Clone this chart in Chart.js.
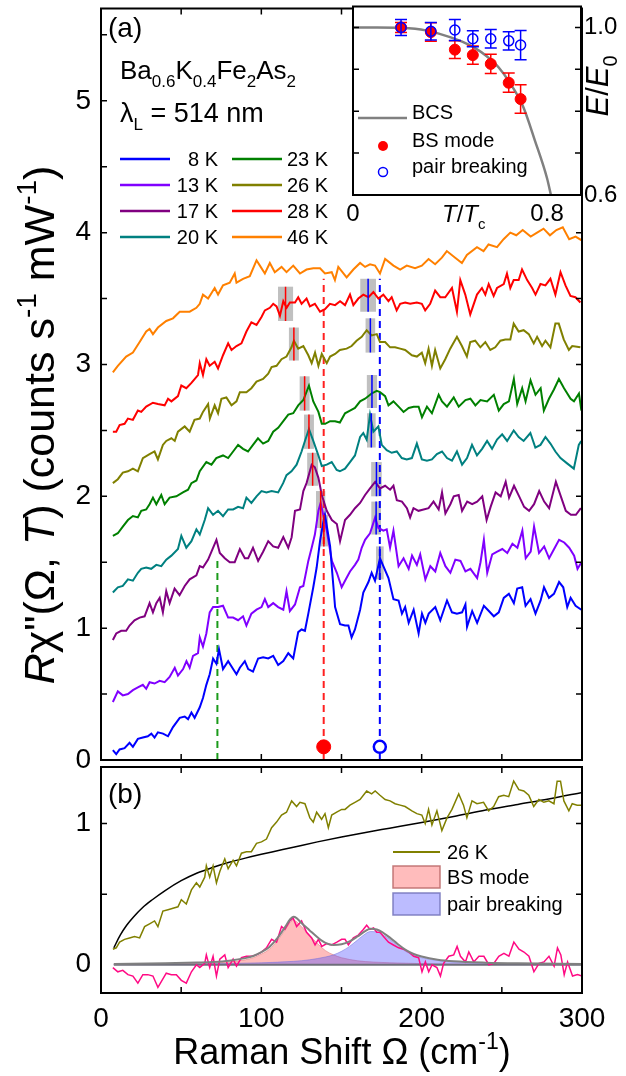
<!DOCTYPE html>
<html>
<head>
<meta charset="utf-8">
<script src="https://cdn.jsdelivr.net/npm/chart.js@4.4.1/dist/chart.umd.min.js"></script>
<style>
  html, body { margin: 0; padding: 0; background: #fff; }
  #wrap { position: relative; width: 626px; height: 1076px; overflow: hidden; }
  canvas { position: absolute; }
</style>
</head>
<body>
<div id="wrap">
  <canvas id="panelA" width="626" height="770" style="left:0;top:0"></canvas>
  <canvas id="panelB" width="626" height="314" style="left:0;top:762px"></canvas>
  <canvas id="inset" width="286" height="232" style="left:340px;top:0"></canvas>
</div>
<script>
const FONT = '"Liberation Sans", Arial, sans-serif';

// ---------- panel (a): spectra [Raman shift cm-1, offset R chi''] ----------
const temps = ['8 K', '13 K', '17 K', '20 K', '23 K', '26 K', '28 K', '46 K'];
const colors = ['#0000ff', '#8000ff', '#800080', '#008080', '#008000', '#808000', '#ff0000', '#ff8000'];

const spec8K = [[7.4,0.075],[9.5,0.045],[11.6,0.08],[14.7,0.09],[17.8,0.13],[19.9,0.10],[23.0,0.16],[26.1,0.17],[29.2,0.18],[31.4,0.20],[33.4,0.17],[35.5,0.21],[38.7,0.20],[41.8,0.18],[44.9,0.25],[49.1,0.32],[52.2,0.33],[54.3,0.31],[56.4,0.36],[58.4,0.32],[61.6,0.40],[63.6,0.47],[65.7,0.57],[67.8,0.65],[69.9,0.77],[72.0,0.73],[73.6,0.84],[76.1,0.69],[79.3,0.75],[82.4,0.69],[84.5,0.65],[86.6,0.70],[89.7,0.75],[91.8,0.69],[94.8,0.67],[98.0,0.77],[101.1,0.78],[104.3,0.77],[107.4,0.79],[110.5,0.72],[113.7,0.75],[116.8,0.81],[119.9,0.77],[123.0,0.97],[125.1,0.99],[127.2,0.98],[129.3,1.11],[132.4,1.31],[134.5,1.46],[136.6,1.66],[138.7,1.81],[139.7,1.86],[142.9,1.62],[146.0,1.16],[149.1,1.03],[152.2,1.02],[154.3,1.02],[156.3,0.93],[158.4,0.99],[161.6,1.14],[163.6,1.27],[166.8,1.35],[168.8,1.42],[170.9,1.36],[174.0,1.53],[176.1,1.47],[179.3,1.38],[182.4,1.22],[185.6,1.21],[187.7,1.11],[189.7,1.16],[191.9,1.04],[195.0,1.14],[198.1,0.96],[200.2,1.11],[202.3,1.04],[204.4,1.11],[208.5,1.16],[211.6,1.06],[215.8,1.21],[218.9,1.12],[222.0,1.11],[225.2,1.12],[227.3,1.18],[228.3,1.01],[231.5,1.13],[234.6,1.04],[238.8,1.17],[241.9,1.13],[245.0,1.09],[248.1,1.12],[251.2,1.23],[254.4,1.26],[257.5,1.19],[259.6,1.30],[262.7,1.31],[264.8,1.17],[267.9,1.22],[271.0,1.11],[274.2,1.21],[276.3,1.31],[279.4,1.23],[282.5,1.26],[285.7,1.35],[288.3,1.31],[290.8,1.16],[292.9,1.23],[296.0,1.17],[299.6,1.14]];
const spec13K = [[7.4,0.44],[10.5,0.52],[13.6,0.49],[16.8,0.50],[19.9,0.53],[23.0,0.55],[26.1,0.57],[28.2,0.54],[30.3,0.59],[33.4,0.58],[36.6,0.60],[39.7,0.59],[42.8,0.63],[46.0,0.70],[48.0,0.64],[51.2,0.69],[53.3,0.75],[55.3,0.70],[57.4,0.79],[60.5,0.81],[61.6,0.93],[63.6,0.86],[65.7,0.96],[67.8,1.12],[69.9,1.16],[73.0,1.16],[76.1,1.17],[79.3,1.08],[82.4,1.08],[85.5,1.06],[88.6,1.09],[90.7,1.02],[93.8,1.11],[97.0,1.14],[100.1,1.16],[102.2,1.22],[104.3,1.16],[107.4,1.19],[110.5,1.16],[113.7,1.14],[115.7,1.28],[117.8,1.13],[121.0,1.18],[124.1,1.31],[126.2,1.32],[129.3,1.51],[131.4,1.61],[133.4,1.71],[135.6,1.89],[137.0,1.95],[138.6,1.86],[140.8,1.74],[144.0,1.51],[147.1,1.42],[150.1,1.31],[152.2,1.36],[155.3,1.43],[158.4,1.48],[160.5,1.52],[162.6,1.61],[164.7,1.67],[167.8,1.72],[171.0,1.84],[173.0,1.76],[176.1,1.74],[178.2,1.75],[180.3,1.61],[182.4,1.74],[185.6,1.47],[188.7,1.53],[191.9,1.45],[194.0,1.55],[197.0,1.48],[199.1,1.56],[202.3,1.37],[205.4,1.47],[208.5,1.43],[211.6,1.57],[214.8,1.47],[217.9,1.42],[221.0,1.52],[224.2,1.51],[227.3,1.43],[230.4,1.45],[234.6,1.38],[236.7,1.50],[238.8,1.67],[240.9,1.42],[244.0,1.56],[247.1,1.58],[250.3,1.60],[253.4,1.57],[256.6,1.64],[259.7,1.61],[262.8,1.74],[264.9,1.53],[268.0,1.58],[270.1,1.77],[273.2,1.57],[276.4,1.62],[279.5,1.53],[282.6,1.60],[285.7,1.67],[288.9,1.65],[292.0,1.61],[295.1,1.55],[297.2,1.45],[299.7,1.50]];
const spec17K = [[7.4,0.91],[9.5,0.96],[12.6,0.98],[15.7,0.98],[17.8,1.02],[20.9,1.06],[24.1,1.08],[27.2,1.09],[30.3,1.19],[32.4,1.12],[34.5,1.19],[36.6,1.23],[38.6,1.12],[40.7,1.28],[42.8,1.19],[45.9,1.30],[49.0,1.25],[52.2,1.32],[55.3,1.37],[59.5,1.40],[61.6,1.47],[63.6,1.46],[66.8,1.52],[68.9,1.58],[72.0,1.67],[74.1,1.57],[77.2,1.53],[80.3,1.50],[83.4,1.50],[86.6,1.60],[89.7,1.53],[91.8,1.53],[94.8,1.61],[98.0,1.51],[101.1,1.58],[104.3,1.66],[107.4,1.62],[110.5,1.61],[113.7,1.69],[116.8,1.61],[118.9,1.69],[121.0,1.89],[124.1,1.90],[126.2,2.04],[128.2,2.10],[131.4,2.24],[133.4,2.22],[135.6,2.14],[137.7,2.01],[140.8,1.89],[144.0,1.82],[147.1,1.79],[149.1,1.66],[152.2,1.82],[155.3,1.86],[158.4,1.91],[161.6,1.95],[164.7,2.01],[167.8,2.06],[171.0,2.11],[174.0,2.06],[177.2,2.08],[180.3,2.05],[182.4,2.08],[184.5,1.97],[187.7,1.96],[190.8,1.91],[192.8,1.84],[194.9,1.91],[198.0,1.89],[201.2,1.90],[204.3,1.91],[207.4,1.96],[210.6,1.90],[212.7,2.03],[214.8,1.87],[217.9,1.94],[220.0,2.00],[223.1,2.01],[225.2,1.89],[228.4,1.96],[231.5,1.94],[234.6,1.96],[237.8,2.00],[240.5,1.82],[243.0,1.92],[246.1,2.03],[249.3,2.00],[252.4,2.11],[254.5,1.99],[257.6,2.08],[260.8,2.00],[263.9,1.92],[267.0,1.89],[270.1,1.94],[273.3,2.04],[276.4,1.96],[279.5,1.91],[283.7,2.11],[286.8,2.00],[289.9,1.89],[293.1,1.86],[296.2,1.86],[299.3,1.91]];
const spec20K = [[7.4,1.27],[10.5,1.31],[13.6,1.32],[16.8,1.37],[19.9,1.36],[23.0,1.42],[25.1,1.45],[28.2,1.46],[31.3,1.45],[34.5,1.48],[37.6,1.47],[40.7,1.52],[43.9,1.55],[48.0,1.60],[50.1,1.70],[53.2,1.61],[56.4,1.66],[59.5,1.75],[61.6,1.71],[64.7,1.82],[66.8,1.91],[69.9,1.86],[73.0,1.89],[76.1,1.85],[79.3,1.90],[82.4,1.90],[85.5,1.92],[88.6,1.91],[90.7,1.99],[93.8,1.95],[97.0,2.00],[100.1,2.04],[103.2,2.03],[106.4,2.04],[110.5,2.03],[113.6,2.10],[115.7,2.16],[118.8,2.19],[122.0,2.24],[125.1,2.34],[127.2,2.42],[129.7,2.51],[132.4,2.42],[135.6,2.31],[137.7,2.23],[140.8,2.24],[143.9,2.26],[147.0,2.20],[149.0,2.19],[152.2,2.21],[155.3,2.26],[158.4,2.31],[161.6,2.45],[163.6,2.48],[165.7,2.43],[167.8,2.62],[169.9,2.49],[173.0,2.53],[175.1,2.39],[178.2,2.35],[181.3,2.33],[184.5,2.34],[187.6,2.29],[190.7,2.28],[193.9,2.29],[197.0,2.40],[200.1,2.28],[203.3,2.27],[206.4,2.28],[209.5,2.32],[212.7,2.34],[215.8,2.29],[218.9,2.27],[222.0,2.34],[225.2,2.24],[228.3,2.29],[231.4,2.39],[234.5,2.31],[237.7,2.36],[240.8,2.42],[243.9,2.36],[247.0,2.43],[250.2,2.47],[253.3,2.42],[257.4,2.50],[260.5,2.45],[263.6,2.42],[267.8,2.48],[270.9,2.37],[274.1,2.39],[277.2,2.45],[280.3,2.40],[283.4,2.34],[286.6,2.29],[290.7,2.25],[294.9,2.21],[298.0,2.39],[299.5,2.42]];
const spec23K = [[7.4,1.70],[10.5,1.72],[13.6,1.77],[16.8,1.82],[19.9,1.85],[23.0,1.84],[25.1,1.89],[28.2,1.90],[30.3,1.94],[32.4,1.99],[34.5,1.94],[37.6,2.01],[39.7,1.94],[42.8,1.99],[47.0,2.00],[51.1,2.03],[54.3,2.05],[56.4,2.10],[59.5,2.12],[61.6,2.19],[65.7,2.26],[68.9,2.24],[71.9,2.29],[76.1,2.31],[79.3,2.29],[82.4,2.34],[85.5,2.39],[88.6,2.36],[91.7,2.34],[94.8,2.39],[97.9,2.44],[101.1,2.40],[104.3,2.42],[107.4,2.49],[110.5,2.52],[113.7,2.57],[116.8,2.62],[119.9,2.63],[123.0,2.69],[126.2,2.73],[129.7,2.84],[132.4,2.72],[135.6,2.64],[137.7,2.55],[139.8,2.55],[142.9,2.57],[146.0,2.57],[149.0,2.56],[152.2,2.63],[155.3,2.65],[158.4,2.67],[161.6,2.72],[164.7,2.74],[168.8,2.78],[172.0,2.80],[174.0,2.79],[177.2,2.76],[179.3,2.69],[182.4,2.72],[185.6,2.68],[188.7,2.64],[191.9,2.67],[195.0,2.68],[198.1,2.68],[200.2,2.60],[203.3,2.68],[206.4,2.63],[210.6,2.77],[212.7,2.72],[215.8,2.68],[220.0,2.75],[223.1,2.68],[227.3,2.73],[230.4,2.74],[233.5,2.69],[236.7,2.73],[240.8,2.72],[245.0,2.77],[248.1,2.65],[251.2,2.70],[254.4,2.72],[257.5,2.89],[259.6,2.70],[262.7,2.82],[264.8,2.72],[267.9,2.88],[271.0,2.77],[274.2,2.82],[276.2,2.65],[279.4,2.74],[282.5,2.81],[285.6,2.89],[288.8,2.82],[292.9,2.74],[295.0,2.72],[298.1,2.78],[299.6,2.65]];
const spec26K = [[7.4,2.10],[10.5,2.13],[13.6,2.18],[16.8,2.19],[19.9,2.21],[23.0,2.19],[26.1,2.29],[30.3,2.32],[33.4,2.34],[35.5,2.28],[38.6,2.39],[40.7,2.42],[43.9,2.44],[46.0,2.42],[48.0,2.49],[52.2,2.53],[55.3,2.49],[58.3,2.58],[61.6,2.59],[63.6,2.64],[66.8,2.70],[67.9,2.59],[70.9,2.69],[73.0,2.63],[75.1,2.74],[78.2,2.75],[81.4,2.69],[84.5,2.72],[86.6,2.79],[90.7,2.79],[93.8,2.82],[97.0,2.87],[101.1,2.89],[104.3,2.93],[106.4,2.98],[109.5,2.99],[112.6,3.04],[115.7,3.06],[118.8,3.13],[120.3,3.18],[123.0,3.12],[126.2,3.14],[129.3,3.07],[131.4,3.01],[133.5,3.09],[135.6,2.99],[137.7,3.08],[140.8,3.01],[142.9,3.06],[146.0,3.08],[149.0,3.11],[153.2,3.12],[156.3,3.14],[159.4,3.18],[162.6,3.21],[165.7,3.26],[168.8,3.22],[172.0,3.23],[174.0,3.17],[177.2,3.17],[180.3,3.13],[183.4,3.13],[186.6,3.12],[189.7,3.11],[193.9,3.07],[197.0,3.06],[200.1,3.09],[202.2,3.01],[204.3,3.12],[206.4,2.99],[208.4,3.11],[211.6,2.97],[214.7,3.04],[217.8,3.12],[222.0,3.21],[225.1,3.14],[228.2,3.06],[230.3,3.17],[233.4,3.18],[236.6,3.13],[239.7,3.17],[242.8,3.11],[245.9,3.13],[249.1,3.18],[252.2,3.19],[255.3,3.19],[257.4,3.31],[260.5,3.25],[263.6,3.26],[266.8,3.23],[269.9,3.16],[272.0,3.21],[275.1,3.14],[277.2,3.18],[280.3,3.13],[283.4,3.31],[285.5,3.31],[288.6,3.19],[291.8,3.11],[293.9,3.14],[299.0,3.13]];
const spec28K = [[7.4,2.49],[9.5,2.49],[11.6,2.54],[14.7,2.55],[16.8,2.59],[19.9,2.58],[23.0,2.65],[25.1,2.64],[28.2,2.68],[32.4,2.71],[35.5,2.70],[39.7,2.69],[41.8,2.74],[43.9,2.72],[48.0,2.76],[50.1,2.84],[53.2,2.82],[56.4,2.86],[60.5,2.92],[61.6,3.01],[63.6,2.92],[65.7,3.04],[67.8,2.99],[70.9,3.02],[73.0,2.97],[76.1,3.07],[79.3,3.16],[81.4,3.11],[84.5,3.14],[87.6,3.16],[90.7,3.25],[93.8,3.32],[97.0,3.30],[100.1,3.36],[102.2,3.41],[105.3,3.43],[107.4,3.46],[109.5,3.44],[111.6,3.37],[113.7,3.48],[115.8,3.43],[117.8,3.47],[121.0,3.47],[123.0,3.51],[125.1,3.46],[128.2,3.50],[130.3,3.44],[133.4,3.46],[136.6,3.40],[139.7,3.42],[142.8,3.46],[146.0,3.45],[149.1,3.48],[152.2,3.45],[155.3,3.53],[157.4,3.45],[160.5,3.50],[163.6,3.53],[166.8,3.51],[169.9,3.55],[173.0,3.50],[176.1,3.53],[179.3,3.48],[181.3,3.51],[184.4,3.41],[186.6,3.46],[189.7,3.47],[192.8,3.46],[197.0,3.47],[200.1,3.46],[202.2,3.41],[205.3,3.46],[208.4,3.56],[211.6,3.51],[214.7,3.51],[218.9,3.58],[222.0,3.40],[224.1,3.64],[227.2,3.53],[230.3,3.38],[234.5,3.53],[237.6,3.58],[239.7,3.53],[241.8,3.61],[244.9,3.52],[247.0,3.58],[251.2,3.61],[253.2,3.69],[255.3,3.58],[257.4,3.64],[260.5,3.64],[262.6,3.72],[265.8,3.64],[268.9,3.58],[271.0,3.53],[274.1,3.61],[277.2,3.60],[280.3,3.65],[283.4,3.53],[286.6,3.70],[289.7,3.60],[292.8,3.52],[295.9,3.51],[299.0,3.47]];
const spec46K = [[7.4,2.94],[10.5,2.99],[15.7,3.06],[19.9,3.09],[24.1,3.17],[28.2,3.25],[30.3,3.27],[32.4,3.23],[35.5,3.28],[40.7,3.33],[44.9,3.35],[49.1,3.40],[55.3,3.40],[59.5,3.43],[61.6,3.46],[63.6,3.53],[66.8,3.50],[70.9,3.58],[73.0,3.53],[76.1,3.60],[80.3,3.62],[83.4,3.69],[84.5,3.62],[88.6,3.65],[92.8,3.67],[97.0,3.79],[99.1,3.75],[102.2,3.69],[105.3,3.77],[108.4,3.70],[112.6,3.74],[115.7,3.70],[119.9,3.75],[124.1,3.69],[128.2,3.72],[132.4,3.73],[136.6,3.73],[139.7,3.69],[143.9,3.70],[145.9,3.64],[148.0,3.74],[153.2,3.66],[157.4,3.72],[161.6,3.77],[164.7,3.74],[167.8,3.76],[170.9,3.75],[174.0,3.69],[177.2,3.80],[182.4,3.75],[186.6,3.72],[190.7,3.75],[195.9,3.73],[200.1,3.75],[204.3,3.80],[208.4,3.76],[212.6,3.81],[215.7,3.86],[220.9,3.81],[225.1,3.77],[228.2,3.83],[234.5,3.89],[238.6,3.86],[241.7,3.91],[247.0,3.89],[251.1,3.95],[255.3,4.00],[259.0,3.98],[263.0,4.02],[268.0,3.97],[272.0,4.00],[276.0,4.03],[280.0,3.98],[284.0,4.02],[288.0,4.04],[292.0,3.95],[296.0,3.97],[300.0,3.94]];
const spectra = [spec8K, spec13K, spec17K, spec20K, spec23K, spec26K, spec28K, spec46K];

// fitted peak positions (8 K ... 28 K): centre, half width, vertical extent
const bsPos  = [139.0, 137.0, 132.0, 129.7, 127.0, 120.3, 115.1];
const bsHalf = [2.6, 2.9, 3.4, 3.1, 3.1, 3.1, 4.7];
const bsLo   = [1.62, 1.76, 2.08, 2.36, 2.65, 3.03, 3.33];
const bsHi   = [1.86, 2.04, 2.33, 2.62, 2.91, 3.28, 3.59];
const pbPos  = [173.9, 171.6, 171.8, 168.6, 169.0, 168.0, 166.6];
const pbHalf = [2.4, 3.0, 3.3, 2.7, 3.2, 3.0, 4.9];
const pbLo   = [1.37, 1.71, 2.00, 2.37, 2.67, 3.09, 3.40];
const pbHi   = [1.62, 1.96, 2.26, 2.63, 2.92, 3.35, 3.65];

// guide lines and the 8 K markers
const greenGuide = [[72.6, 0], [72.6, 1.53]];
const redGuide = [[138.9, 0], [138.9, 3.65]];
const blueGuide = [[173.9, 0], [173.9, 3.65]];
const bsMark = [[138.9, 0.1]];
const pbMark = [[173.9, 0.1]];

// ---------- inset: E/E0 vs T/Tc ----------
const tRatio = [0.198, 0.321, 0.42, 0.494, 0.568, 0.642, 0.691];
const eBS = [1.0, 0.989, 0.947, 0.934, 0.913, 0.868, 0.829];
const errBS = [0.012, 0.022, 0.021, 0.022, 0.023, 0.023, 0.034];
const ePB = [1.0, 0.991, 0.994, 0.973, 0.973, 0.968, 0.958];
const errPB = [0.019, 0.021, 0.025, 0.019, 0.022, 0.022, 0.035];
const bcsT = [0, 0.1, 0.2, 0.3, 0.4, 0.45, 0.5, 0.55, 0.6, 0.65, 0.7, 0.75, 0.8, 0.816];
const bcsE = [1.0, 1.0, 0.999, 0.993, 0.977, 0.966, 0.952, 0.932, 0.905, 0.865, 0.813, 0.73, 0.64, 0.6];

// ---------- panel (b): 26 K decomposition ----------
const b26K = [[7.4,0.11],[9.5,0.12],[11.6,0.16],[14.7,0.18],[17.8,0.19],[20.9,0.20],[24.1,0.19],[27.2,0.27],[30.3,0.29],[33.4,0.31],[35.5,0.27],[38.6,0.38],[41.8,0.39],[44.9,0.40],[48.0,0.41],[50.1,0.46],[53.2,0.43],[56.4,0.53],[59.5,0.58],[61.6,0.55],[64.7,0.62],[65.7,0.70],[67.8,0.62],[69.9,0.70],[72.0,0.58],[74.1,0.66],[77.2,0.75],[79.3,0.68],[82.4,0.74],[84.5,0.70],[87.6,0.79],[90.7,0.80],[93.8,0.80],[97.0,0.86],[100.1,0.87],[103.2,0.89],[106.4,0.97],[109.5,1.01],[112.6,1.06],[115.7,1.08],[118.9,1.16],[122.0,1.12],[124.1,1.15],[127.2,1.14],[130.3,1.04],[132.4,1.01],[134.5,1.08],[137.6,1.03],[139.7,1.07],[141.8,0.97],[143.9,1.06],[147.0,1.08],[150.1,1.10],[152.2,1.10],[155.3,1.13],[158.4,1.15],[161.6,1.17],[165.7,1.23],[168.8,1.21],[171.0,1.23],[174.0,1.20],[177.2,1.17],[180.3,1.16],[183.4,1.14],[186.6,1.13],[189.7,1.12],[193.9,1.09],[197.0,1.07],[200.1,1.06],[202.2,1.00],[204.3,1.10],[206.4,0.99],[209.5,1.09],[212.6,0.95],[215.8,1.04],[218.9,1.10],[223.1,1.21],[226.1,1.13],[228.2,1.04],[231.4,1.16],[234.5,1.14],[238.6,1.15],[241.8,1.09],[244.9,1.12],[248.0,1.19],[251.2,1.20],[254.3,1.19],[257.4,1.30],[260.6,1.24],[263.7,1.23],[266.8,1.20],[269.9,1.12],[273.1,1.17],[276.2,1.15],[279.3,1.16],[282.5,1.14],[284.5,1.30],[286.6,1.30],[288.7,1.16],[291.8,1.09],[293.9,1.14],[297.0,1.13],[300.0,1.13]];
const bBackground = [[8,0.12],[12,0.21],[16,0.28],[20,0.335],[26,0.405],[32,0.46],[40,0.525],[50,0.595],[60,0.65],[70,0.69],[80,0.725],[90,0.755],[100,0.782],[110,0.807],[120,0.832],[135,0.87],[150,0.905],[165,0.937],[180,0.967],[200,1.007],[220,1.05],[240,1.095],[260,1.135],[280,1.175],[300,1.22]];
const bResidual = [[7.4,-0.02],[10.5,-0.05],[13.6,-0.04],[16.8,-0.07],[19.9,-0.08],[23.0,-0.13],[26.1,-0.07],[29.2,-0.07],[32.4,-0.08],[35.5,-0.16],[37.6,-0.12],[40.7,-0.06],[43.9,-0.07],[47.0,-0.07],[50.1,-0.11],[53.2,-0.13],[56.4,-0.05],[59.5,0.0],[61.6,-0.02],[64.7,0.01],[65.7,0.07],[67.8,-0.02],[69.9,0.06],[72.0,-0.08],[74.1,0.04],[77.2,0.07],[79.3,-0.02],[82.4,0.04],[84.5,-0.01],[87.6,0.05],[90.7,0.06],[93.8,0.06],[97.0,0.07],[100.1,0.09],[103.2,0.12],[106.4,0.18],[109.5,0.16],[112.6,0.27],[114.7,0.25],[117.8,0.31],[119.9,0.33],[122.0,0.27],[125.1,0.31],[128.2,0.23],[131.4,0.19],[133.5,0.14],[135.6,0.18],[137.7,0.13],[140.8,0.15],[143.9,0.14],[147.1,0.16],[150.1,0.18],[152.2,0.18],[154.3,0.14],[157.4,0.19],[160.5,0.21],[163.6,0.25],[165.7,0.28],[167.8,0.25],[170.0,0.26],[172.0,0.23],[174.0,0.23],[176.2,0.20],[179.3,0.16],[182.4,0.14],[185.6,0.12],[188.7,0.11],[191.9,0.09],[195.0,0.06],[198.1,0.05],[200.2,-0.05],[202.3,0.02],[204.4,-0.05],[206.5,0.0],[209.5,-0.02],[211.7,-0.08],[213.7,0.01],[216.9,0.06],[220.0,0.07],[222.1,0.13],[224.2,0.06],[227.3,0.02],[229.4,0.09],[232.5,0.02],[235.7,0.06],[238.8,0.06],[241.9,0.0],[245.0,0.01],[248.1,0.06],[251.3,0.08],[254.4,0.06],[257.5,0.16],[260.7,0.11],[263.8,0.09],[266.9,0.06],[270.0,-0.05],[273.2,0.01],[276.3,0.02],[279.4,0.06],[282.6,-0.01],[284.7,0.12],[286.8,0.07],[288.9,-0.07],[291.0,0.02],[294.1,-0.08],[297.2,-0.07],[300.0,-0.08]];
const bBSmode = [[8,0.003],[40,0.006],[60,0.01],[70,0.013],[80,0.02],[90,0.035],[95,0.05],[100,0.075],[105,0.11],[110,0.17],[115,0.25],[118,0.3],[120,0.315],[122,0.305],[125,0.27],[130,0.21],[135,0.15],[140,0.10],[145,0.07],[150,0.05],[160,0.028],[170,0.019],[180,0.014],[200,0.008],[240,0.004],[300,0.002]];
const bPairBreaking = [[8,0.002],[60,0.006],[80,0.009],[100,0.014],[120,0.024],[130,0.035],[140,0.055],[145,0.07],[150,0.095],[155,0.13],[160,0.175],[165,0.22],[168,0.235],[172,0.232],[176,0.21],[180,0.18],[185,0.135],[190,0.095],[195,0.068],[200,0.05],[210,0.03],[220,0.02],[240,0.011],[260,0.007],[300,0.003]];
const bTotalFit = [[8,0.005],[40,0.01],[60,0.016],[70,0.02],[80,0.029],[90,0.047],[95,0.062],[100,0.089],[105,0.126],[110,0.188],[115,0.27],[118,0.322],[120,0.339],[122,0.33],[125,0.296],[130,0.245],[135,0.195],[140,0.155],[145,0.14],[150,0.145],[155,0.165],[160,0.2],[165,0.24],[168,0.255],[172,0.25],[176,0.226],[180,0.194],[185,0.147],[190,0.105],[195,0.076],[200,0.058],[210,0.036],[220,0.025],[240,0.015],[260,0.01],[300,0.005]];
const bZero = [[8,0],[300,0]];

const pts = arr => arr.map(([x, y]) => ({ x, y }));

// text with italic / sub / superscript pieces, drawn on the alphabetic baseline
function rich(ctx, parts, x, y, size, align) {
  const spans = parts.map(p => {
    const s = (p.sub || p.sup) ? Math.round(size * 0.64) : size;
    const font = (p.it ? 'italic ' : '') + s + 'px ' + FONT;
    ctx.font = font;
    return { t: p.t, font, w: ctx.measureText(p.t).width, dy: p.sub ? size * 0.3 : p.sup ? -size * 0.42 : 0 };
  });
  const total = spans.reduce((s, p) => s + p.w, 0);
  let cx = align === 'center' ? x - total / 2 : align === 'right' ? x - total : x;
  ctx.textAlign = 'left';
  ctx.textBaseline = 'alphabetic';
  spans.forEach(s => { ctx.font = s.font; ctx.fillText(s.t, cx, y + s.dy); cx += s.w; });
}

function frame(chart, xTicks, yTicks, len) {
  const { ctx, chartArea: a, scales: { x, y } } = chart;
  ctx.save();
  ctx.strokeStyle = '#000';
  ctx.lineWidth = 1.5;
  ctx.beginPath();
  xTicks.forEach(v => {
    const px = x.getPixelForValue(v);
    ctx.moveTo(px, a.bottom); ctx.lineTo(px, a.bottom - len);
    ctx.moveTo(px, a.top); ctx.lineTo(px, a.top + len);
  });
  yTicks.forEach(v => {
    const py = y.getPixelForValue(v);
    ctx.moveTo(a.left, py); ctx.lineTo(a.left + len, py);
    ctx.moveTo(a.right, py); ctx.lineTo(a.right - len, py);
  });
  ctx.stroke();
  ctx.lineWidth = 2;
  ctx.strokeRect(a.left, a.top, a.right - a.left, a.bottom - a.top);
  ctx.restore();
}

const xMinor = [50, 100, 150, 200, 250];
const baseOptions = (pad, ymin, ymax, xmin, xmax) => ({
  responsive: false,
  animation: false,
  layout: { padding: pad },
  scales: {
    x: { type: 'linear', min: xmin, max: xmax, display: false },
    y: { type: 'linear', min: ymin, max: ymax, display: false },
  },
  plugins: { legend: { display: false }, tooltip: { enabled: false } },
  elements: { point: { radius: 0 }, line: { tension: 0 } },
});

// ---------- panel (a) ----------
const panelAExtras = {
  id: 'panelAExtras',
  beforeDatasetsDraw(chart) {
    const { ctx, scales: { x, y } } = chart;
    ctx.save();
    ctx.fillStyle = '#c0c0c0';
    const boxes = [[bsPos, bsHalf, bsLo, bsHi], [pbPos, pbHalf, pbLo, pbHi]];
    bsPos.forEach((_, i) => {
      boxes.forEach(([p, h, lo, hi]) => {
        const l = x.getPixelForValue(p[i] - h[i]), r = x.getPixelForValue(p[i] + h[i]);
        const t = y.getPixelForValue(hi[i]), b = y.getPixelForValue(lo[i]);
        ctx.fillRect(l, t, r - l, b - t);
      });
    });
    ctx.restore();
  },
  afterDatasetsDraw(chart) {
    const { ctx, scales: { x, y } } = chart;
    ctx.save();
    ctx.lineWidth = 1.5;
    [[bsPos, bsLo, bsHi, '#ff0000'], [pbPos, pbLo, pbHi, '#0000ff']].forEach(([p, lo, hi, c]) => {
      ctx.strokeStyle = c;
      ctx.beginPath();
      p.forEach((v, i) => {
        const px = x.getPixelForValue(v);
        ctx.moveTo(px, y.getPixelForValue(hi[i]));
        ctx.lineTo(px, y.getPixelForValue(lo[i]));
      });
      ctx.stroke();
    });
    ctx.restore();
  },
  afterDraw(chart) {
    const { ctx, scales: { y } } = chart;
    frame(chart, xMinor, [0.5, 1, 1.5, 2, 2.5, 3, 3.5, 4, 4.5, 5, 5.5], 6);
    ctx.save();
    ctx.fillStyle = '#000';
    ctx.font = '28px ' + FONT;
    ctx.textAlign = 'right';
    ctx.textBaseline = 'middle';
    [0, 1, 2, 3, 4, 5].forEach(v => ctx.fillText(String(v), 91, y.getPixelForValue(v)));

    ctx.textAlign = 'left';
    ctx.textBaseline = 'alphabetic';
    ctx.font = '28px ' + FONT;
    ctx.fillText('(a)', 108, 37);
    rich(ctx, [{ t: 'Ba' }, { t: '0.6', sub: 1 }, { t: 'K' }, { t: '0.4', sub: 1 }, { t: 'Fe' }, { t: '2', sub: 1 }, { t: 'As' }, { t: '2', sub: 1 }], 120, 79, 26, 'left');
    rich(ctx, [{ t: 'λ' }, { t: 'L', sub: 1 }, { t: ' = 514 nm' }], 120, 122, 27, 'left');

    // legend, two columns
    ctx.lineWidth = 2.5;
    temps.forEach((t, i) => {
      const col = i < 4 ? 0 : 1;
      const row = i % 4;
      const yy = 159 + row * 26;
      const x0 = col ? 232 : 120;
      ctx.strokeStyle = colors[i];
      ctx.beginPath(); ctx.moveTo(x0, yy); ctx.lineTo(x0 + 50, yy); ctx.stroke();
      ctx.font = '20px ' + FONT;
      ctx.textBaseline = 'middle';
      ctx.textAlign = col ? 'left' : 'right';
      ctx.fillText(t, col ? 287 : 218, yy + 1);
    });

    // y title
    ctx.translate(54, 425);
    ctx.rotate(-Math.PI / 2);
    rich(ctx, [{ t: 'R', it: 1 }, { t: 'χ"(Ω, ' }, { t: 'T', it: 1 }, { t: ') (counts s' }, { t: '-1', sup: 1 }, { t: ' mW' }, { t: '-1', sup: 1 }, { t: ')' }], 0, 0, 43, 'center');
    ctx.restore();
  },
};

const aSets = spectra.map((s, i) => ({
  label: temps[i], data: pts(s), borderColor: colors[i], borderWidth: 2, order: 10,
}));
aSets.push(
  { label: 'guide 72', data: pts(greenGuide), borderColor: '#1a9a1a', borderWidth: 2, borderDash: [7, 5], order: 20 },
  { label: 'guide BS', data: pts(redGuide), borderColor: '#ff2020', borderWidth: 2, borderDash: [7, 5], order: 20 },
  { label: 'guide PB', data: pts(blueGuide), borderColor: '#0000ff', borderWidth: 2, borderDash: [7, 5], order: 20 },
  { label: 'BS 8 K', data: pts(bsMark), showLine: false, pointRadius: 7, pointBackgroundColor: '#ff0000', pointBorderColor: '#ff0000', order: 1 },
  { label: 'PB 8 K', data: pts(pbMark), showLine: false, pointRadius: 6, pointBorderWidth: 2.5, pointBackgroundColor: '#ffffff', pointBorderColor: '#0000ff', order: 1 },
);

new Chart(document.getElementById('panelA'), {
  type: 'line',
  data: { datasets: aSets },
  options: baseOptions({ left: 101, right: 44, top: 5, bottom: 10 }, 0, 5.7, 0, 300),
  plugins: [panelAExtras],
});

// ---------- inset ----------
const insetExtras = {
  id: 'insetExtras',
  beforeDatasetsDraw(chart) {
    const { ctx, chartArea: a } = chart;
    ctx.save();
    ctx.fillStyle = '#fff';
    ctx.fillRect(a.left, a.top, a.right - a.left, a.bottom - a.top);
    ctx.restore();
  },
  beforeDatasetDraw(chart, args) {
    const ds = chart.data.datasets[args.index];
    if (!ds.errors) return;
    const { ctx, scales: { x, y } } = chart;
    ctx.save();
    ctx.strokeStyle = ds.pointBorderColor;
    ctx.lineWidth = 1.5;
    ctx.beginPath();
    ds.data.forEach((p, i) => {
      const px = x.getPixelForValue(p.x);
      const y1 = y.getPixelForValue(p.y + ds.errors[i]), y2 = y.getPixelForValue(p.y - ds.errors[i]);
      ctx.moveTo(px, y1); ctx.lineTo(px, y2);
      ctx.moveTo(px - 6, y1); ctx.lineTo(px + 6, y1);
      ctx.moveTo(px - 6, y2); ctx.lineTo(px + 6, y2);
    });
    ctx.stroke();
    ctx.restore();
  },
  afterDraw(chart) {
    const { ctx, scales: { x, y } } = chart;
    frame(chart, [], [0.7, 0.8, 0.9, 1.0], 6);
    ctx.save();
    ctx.fillStyle = '#000';
    ctx.font = '24px ' + FONT;
    ctx.textBaseline = 'middle';
    ctx.textAlign = 'left';
    ctx.fillText('1.0', 244, y.getPixelForValue(1.0));
    ctx.fillText('0.6', 244, y.getPixelForValue(0.6));
    ctx.textAlign = 'center';
    ctx.fillText('0', x.getPixelForValue(0), 214);
    ctx.fillText('0.8', x.getPixelForValue(0.8), 214);
    rich(ctx, [{ t: 'T', it: 1 }, { t: '/' }, { t: 'T', it: 1 }, { t: 'c', sub: 1 }], 102, 222, 24, 'left');

    // legend
    ctx.strokeStyle = '#808080';
    ctx.lineWidth = 2.5;
    ctx.beginPath(); ctx.moveTo(18, 118); ctx.lineTo(67, 118); ctx.stroke();
    ctx.fillStyle = '#ff0000';
    ctx.beginPath(); ctx.arc(43, 146, 5, 0, Math.PI * 2); ctx.fill();
    ctx.strokeStyle = '#0000ff';
    ctx.lineWidth = 1.5;
    ctx.beginPath(); ctx.arc(43, 172, 4.5, 0, Math.PI * 2); ctx.stroke();
    ctx.fillStyle = '#000';
    ctx.font = '20px ' + FONT;
    ctx.textAlign = 'left';
    ctx.fillText('BCS', 72, 119);
    ctx.fillText('BS mode', 72, 147);
    ctx.fillText('pair breaking', 72, 173);

    ctx.translate(268, 86);
    ctx.rotate(-Math.PI / 2);
    rich(ctx, [{ t: 'E', it: 1 }, { t: '/' }, { t: 'E', it: 1 }, { t: '0', sub: 1 }], 0, 0, 31, 'center');
    ctx.restore();
  },
};

new Chart(document.getElementById('inset'), {
  type: 'line',
  data: {
    datasets: [
      { label: 'pair breaking', data: tRatio.map((t, i) => ({ x: t, y: ePB[i] })), errors: errPB, showLine: false,
        pointRadius: 5, pointBorderWidth: 1.5, pointBackgroundColor: 'rgba(255,255,255,0)', pointBorderColor: '#0000ff', order: 1 },
      { label: 'BS mode', data: tRatio.map((t, i) => ({ x: t, y: eBS[i] })), errors: errBS, showLine: false,
        pointRadius: 5.5, pointBackgroundColor: '#ff0000', pointBorderColor: '#ff0000', order: 2 },
      { label: 'BCS', data: bcsT.map((t, i) => ({ x: t, y: bcsE[i] })), borderColor: '#808080', borderWidth: 2.5,
        cubicInterpolationMode: 'monotone', order: 3 },
    ],
  },
  options: baseOptions({ left: 13, right: 45, top: 5, bottom: 37 }, 0.6, 1.05, 0, 0.94),
  plugins: [insetExtras],
});

// ---------- panel (b) ----------
const panelBExtras = {
  id: 'panelBExtras',
  afterDraw(chart) {
    const { ctx, scales: { x, y } } = chart;
    frame(chart, xMinor, [0.5, 1], 6);
    ctx.save();
    ctx.fillStyle = '#000';
    ctx.font = '28px ' + FONT;
    ctx.textAlign = 'right';
    ctx.textBaseline = 'middle';
    [0, 1].forEach(v => ctx.fillText(String(v), 91, y.getPixelForValue(v)));
    ctx.textAlign = 'center';
    [0, 100, 200, 300].forEach(v => ctx.fillText(String(v), x.getPixelForValue(v), 257));
    rich(ctx, [{ t: 'Raman Shift Ω (cm' }, { t: '-1', sup: 1 }, { t: ')' }], 342, 302, 36, 'center');

    ctx.textAlign = 'left';
    ctx.textBaseline = 'alphabetic';
    ctx.font = '28px ' + FONT;
    ctx.fillText('(b)', 108, 41);

    // legend
    ctx.strokeStyle = '#808000';
    ctx.lineWidth = 2;
    ctx.beginPath(); ctx.moveTo(393, 90); ctx.lineTo(440, 90); ctx.stroke();
    ctx.lineWidth = 1.5;
    ctx.fillStyle = 'rgba(255,80,80,0.38)';
    ctx.strokeStyle = 'rgba(190,110,110,0.9)';
    ctx.fillRect(393, 104, 47, 22); ctx.strokeRect(393, 104, 47, 22);
    ctx.fillStyle = 'rgba(80,80,255,0.38)';
    ctx.strokeStyle = 'rgba(120,120,190,0.9)';
    ctx.fillRect(393, 131, 47, 22); ctx.strokeRect(393, 131, 47, 22);
    ctx.fillStyle = '#000';
    ctx.font = '20px ' + FONT;
    ctx.textBaseline = 'middle';
    ctx.fillText('26 K', 447, 91);
    ctx.fillText('BS mode', 447, 116);
    ctx.fillText('pair breaking', 447, 143);
    ctx.restore();
  },
};

new Chart(document.getElementById('panelB'), {
  type: 'line',
  data: {
    datasets: [
      { label: '26 K', data: pts(b26K), borderColor: '#808000', borderWidth: 1.5, order: 1 },
      { label: 'background', data: pts(bBackground), borderColor: '#000', borderWidth: 1.5, cubicInterpolationMode: 'monotone', order: 2 },
      { label: 'fit', data: pts(bTotalFit), borderColor: '#808080', borderWidth: 2, cubicInterpolationMode: 'monotone', order: 3 },
      { label: 'residual', data: pts(bResidual), borderColor: '#ff0a84', borderWidth: 1.5, order: 4 },
      { label: 'zero', data: pts(bZero), borderColor: '#6e6e7a', borderWidth: 2, order: 5 },
      { label: 'pair breaking', data: pts(bPairBreaking), borderColor: 'rgba(110,110,220,0.5)', borderWidth: 1,
        backgroundColor: 'rgba(80,80,255,0.38)', fill: 'origin', cubicInterpolationMode: 'monotone', order: 6 },
      { label: 'BS mode', data: pts(bBSmode), borderColor: 'rgba(220,110,110,0.5)', borderWidth: 1,
        backgroundColor: 'rgba(255,80,80,0.38)', fill: 'origin', cubicInterpolationMode: 'monotone', order: 7 },
    ],
  },
  options: baseOptions({ left: 101, right: 44, top: 5, bottom: 83 }, -0.2, 1.4, 0, 300),
  plugins: [panelBExtras],
});
</script>
</body>
</html>
